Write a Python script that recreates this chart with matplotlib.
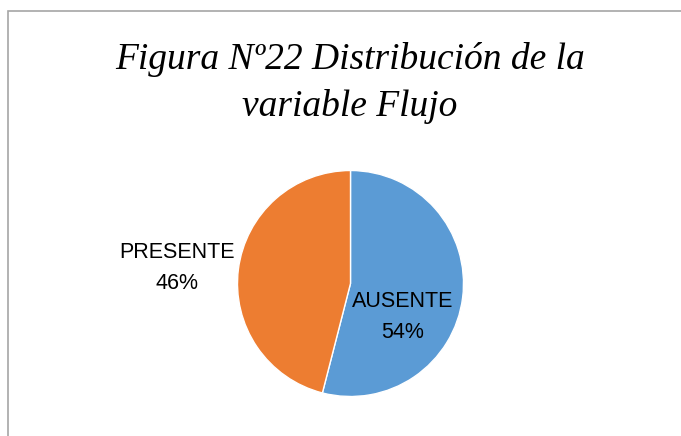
import matplotlib.pyplot as plt
from matplotlib.patches import Rectangle

# data
categorias = ['AUSENTE', 'PRESENTE']
valores = [54, 46]
colores = ['#5B9BD5', '#ED7D31']
titulo = 'Figura Nº22 Distribución de la\nvariable Flujo'

W, H = 681, 436
fig = plt.figure(figsize=(W / 100, H / 100), dpi=100)
ax = fig.add_axes([0, 0, 1, 1])
ax.set_xlim(0, W)
ax.set_ylim(0, H)
ax.set_aspect('equal')
ax.axis('off')

# chart frame (goes past the right/bottom edge like the screenshot)
ax.add_patch(Rectangle((7.5, -10), W + 20, H - 10.5 + 10, fill=False,
                       edgecolor='#A6A6A6', linewidth=1.2))

ax.pie(valores, colors=colores, startangle=90, counterclock=False,
       center=(350.5, H - 283.5), radius=113,
       wedgeprops=dict(edgecolor='white', linewidth=1))
ax.set_xlim(0, W)
ax.set_ylim(0, H)

total = sum(valores)
pos = {'AUSENTE': (403, 317), 'PRESENTE': (177, 268)}
for cat, v in zip(categorias, valores):
    x, y = pos[cat]
    ax.text(x, H - y, f'{cat}\n{round(100 * v / total)}%', ha='center', va='center',
            fontsize=15.5, family='Liberation Sans', linespacing=1.65, color='black')

ax.text(350, H - 83, titulo, ha='center', va='center', fontsize=27,
        family='Liberation Serif', style='italic', linespacing=1.45)

plt.savefig('out.png', dpi=100)
